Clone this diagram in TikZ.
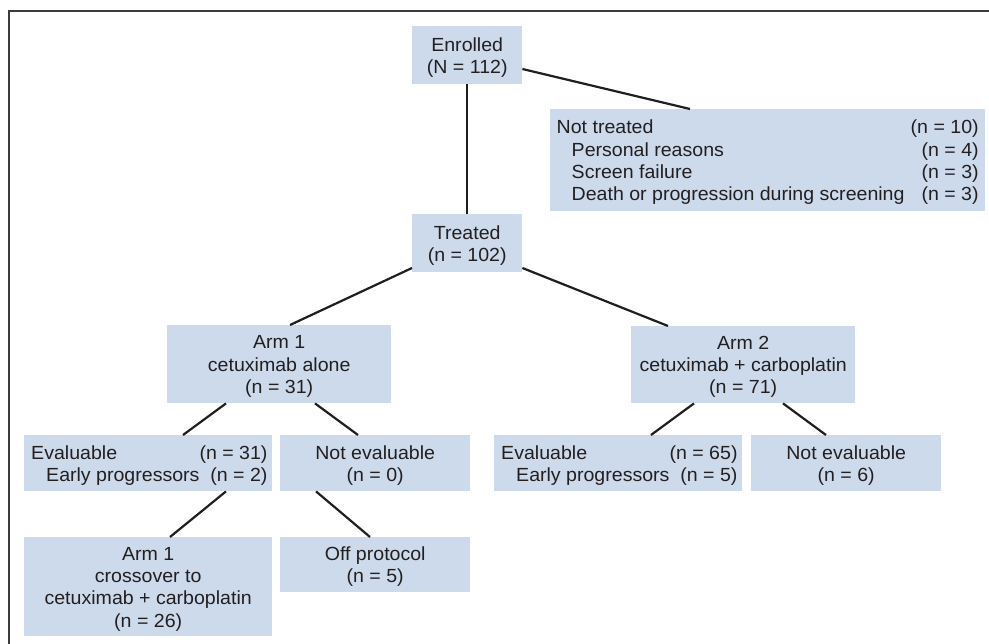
\documentclass[tikz,border=0pt]{standalone}
\usepackage{fontspec}
\setmainfont{Liberation Sans}[FakeStretch=1.03]
\usetikzlibrary{calc}
\definecolor{boxfill}{HTML}{CCDAEC}
\definecolor{txt}{HTML}{231F20}
\definecolor{framec}{HTML}{3C3C3C}
\newcommand{\ctext}[1]{\raisebox{-2.5pt}[\height][\depth]{\begin{tabular}{@{}c@{}}#1\end{tabular}}}
\newcommand{\ltext}[2]{\raisebox{-2.5pt}[\height][\depth]{\begin{tabular*}{#1}{@{}l@{\extracolsep{\fill}}r@{}}#2\end{tabular*}}}
\begin{document}
\begin{tikzpicture}[x=1pt,y=-1pt,
  box/.style={fill=boxfill, inner sep=0pt, anchor=north west, align=center, text=txt,
    font=\fontsize{19}{22.3}\selectfont},
  conn/.style={line width=2.2pt, draw=black!88}]
\useasboundingbox (0,0) rectangle (989,644);
\draw[framec, line width=2pt] (9,644) -- (9,11) -- (989,11);

\node[box, minimum width=110pt, minimum height=58pt] (enr) at (412,26) {\ctext{Enrolled\\(N = 112)}};
\node[box, minimum width=435pt, minimum height=102pt] (nt) at (550,109)
  {\ltext{422pt}{Not treated & (n = 10)\\
  \hspace{15pt}Personal reasons & (n = 4)\\
  \hspace{15pt}Screen failure & (n = 3)\\
  \hspace{15pt}Death or progression during screening & (n = 3)}};
\node[box, minimum width=110pt, minimum height=58pt] (tr) at (412,214) {\ctext{Treated\\(n = 102)}};
\node[box, minimum width=224pt, minimum height=78pt] (arma) at (167,325) {\ctext{Arm 1\\cetuximab alone\\(n = 31)}};
\node[box, minimum width=224pt, minimum height=77pt] (armb) at (631,326) {\ctext{Arm 2\\cetuximab + carboplatin\\(n = 71)}};
\node[box, minimum width=248pt, minimum height=56pt] (eva) at (24,435)
  {\ltext{234pt}{Evaluable & (n = 31)\\
  \hspace{15pt}Early progressors & (n = 2)}};
\node[box, minimum width=190pt, minimum height=56pt] (nea) at (280,435) {\ctext{Not evaluable\\(n = 0)}};
\node[box, minimum width=248pt, minimum height=56pt] (evb) at (494,435)
  {\ltext{234pt}{Evaluable & (n = 65)\\
  \hspace{15pt}Early progressors & (n = 5)}};
\node[box, minimum width=190pt, minimum height=56pt] (neb) at (751,435) {\ctext{Not evaluable\\(n = 6)}};
\node[box, minimum width=248pt, minimum height=99pt] (cross) at (24,537) {\ctext{Arm 1\\crossover to\\cetuximab + carboplatin\\(n = 26)}};
\node[box, minimum width=190pt, minimum height=55pt] (off) at (280,537) {\ctext{Off protocol\\(n = 5)}};

\draw[conn] (enr.south) -- (tr.north);
\draw[conn] ($(enr.north east)+(0,43)$) -- ($(nt.north west)+(140,0)$);
\draw[conn] ($(tr.north west)+(0,54)$) -- ($(arma.north west)+(123,0)$);
\draw[conn] ($(tr.north east)+(0,54)$) -- ($(armb.north west)+(37,0)$);
\draw[conn] ($(arma.south west)+(59,0)$) -- ($(eva.north west)+(159,0)$);
\draw[conn] ($(arma.south west)+(148,0)$) -- ($(nea.north west)+(78,0)$);
\draw[conn] ($(armb.south west)+(63,0)$) -- ($(evb.north west)+(157,0)$);
\draw[conn] ($(armb.south west)+(152,0)$) -- ($(neb.north west)+(75,0)$);
\draw[conn] ($(eva.south west)+(202,0)$) -- ($(cross.north west)+(146,0)$);
\draw[conn] ($(nea.south west)+(36,0)$) -- ($(off.north west)+(90,0)$);
\end{tikzpicture}
\end{document}
